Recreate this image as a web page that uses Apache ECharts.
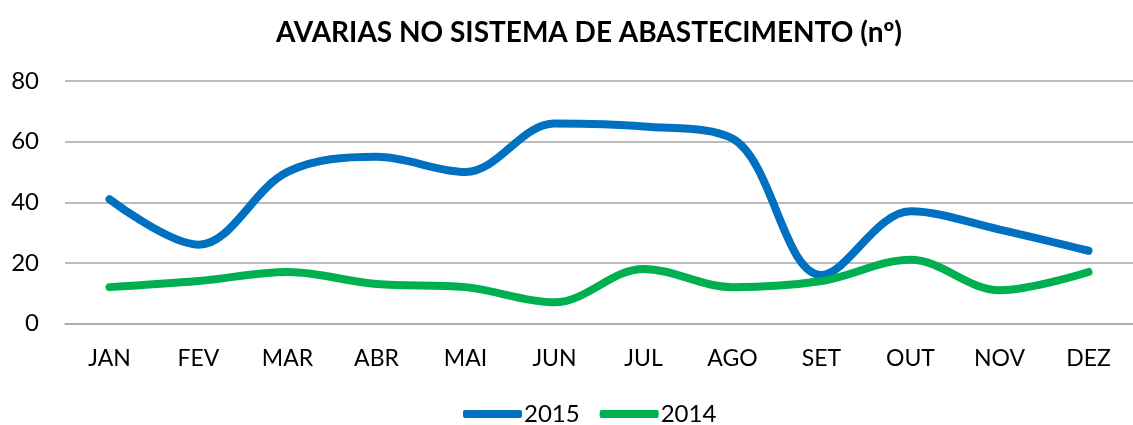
<!DOCTYPE html>
<html><head><meta charset="utf-8">
<script src="https://cdn.jsdelivr.net/npm/echarts@6/dist/echarts.min.js"></script>
<style>html,body{margin:0;padding:0;background:#fff}#c{width:1133px;height:425px}</style>
</head><body><div id="c"></div>
<script>
const categories = ['JAN','FEV','MAR','ABR','MAI','JUN','JUL','AGO','SET','OUT','NOV','DEZ'];
const values2015 = [41, 26, 50, 55, 50, 66, 65, 61, 16, 37, 31, 24];
const values2014 = [12, 14, 17, 13, 12, 7, 18, 12, 14, 21, 11, 17];
const yTicks = [0, 20, 40, 60, 80];
const titleText = 'AVARIAS NO SISTEMA DE ABASTECIMENTO (nº)';

const FONT = 'Lato';
const chart = echarts.init(document.getElementById('c'), null, {renderer: 'canvas'});
chart.setOption({
  animation: false,
  backgroundColor: '#ffffff',
  title: {
    text: titleText, left: 584, textAlign: 'center', top: 14,
    textStyle: {fontFamily: FONT, fontWeight: 'bold', fontSize: 28, color: '#000'}
  },
  legend: {
    data: ['2015', '2014'], top: 402, left: 463, padding: 0,
    icon: 'roundRect', itemWidth: 59, itemHeight: 8, itemGap: 20,
    textStyle: {fontFamily: FONT, fontSize: 24, color: '#000', padding: [0, 0, 0, -3]}
  },
  grid: {left: 65, right: -12, top: 81, bottom: 101.5, containLabel: false},
  xAxis: {
    type: 'category', data: categories, boundaryGap: true,
    axisLine: {show: true, lineStyle: {color: '#a6a6a6', width: 1.5}},
    axisTick: {show: false},
    axisLabel: {fontFamily: FONT, fontSize: 23, color: '#000', margin: 24}
  },
  yAxis: {
    type: 'value', min: yTicks[0], max: yTicks[yTicks.length - 1], interval: 20,
    axisLine: {show: false}, axisTick: {show: false},
    axisLabel: {fontFamily: FONT, fontSize: 24, color: '#000', margin: 26},
    splitLine: {lineStyle: {color: '#a6a6a6', width: 1.5}}
  },
  series: [
    {name: '2015', type: 'line', data: values2015, smooth: 0.35, showSymbol: false,
     color: '#0070c0', lineStyle: {width: 8, color: '#0070c0', cap: 'round', join: 'round'}},
    {name: '2014', type: 'line', data: values2014, smooth: 0.35, showSymbol: false,
     color: '#00b050', lineStyle: {width: 8, color: '#00b050', cap: 'round', join: 'round'}}
  ]
});
</script></body></html>
